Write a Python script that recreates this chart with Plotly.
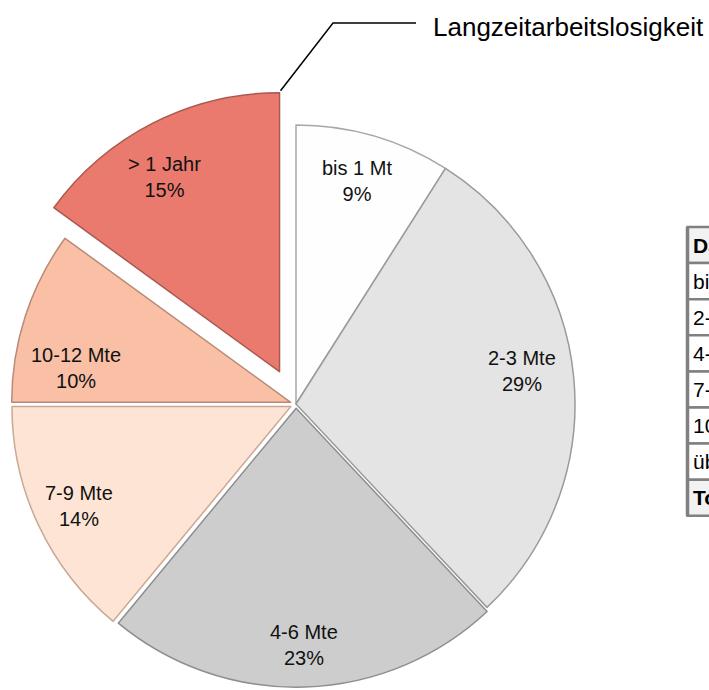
import math
import plotly.graph_objects as go

# ---------------- data ----------------
categories = ["bis 1 Mt", "2-3 Mte", "4-6 Mte", "7-9 Mte", "10-12 Mte", "> 1 Jahr"]
shares = [9, 29, 23, 14, 10, 15]
table_rows = ["Dauer", "bis 1 Mt", "2-3 Mte", "4-6 Mte", "7-9 Mte", "10-12 Mte", "über 1 Jahr", "Total"]
callout_text = "Langzeitarbeitslosigkeit"

# ---------------- style ----------------
W, H = 709, 690
FONT = "Liberation Sans, Arial, sans-serif"
slice_colors = ["#FEFEFE", "#E4E4E4", "#CDCDCD", "#FDE4D4", "#F9C0A6", "#EB7A6E"]
edge_colors = ["#A8A8A8", "#9A9A9A", "#8E8E8E", "#C9A896", "#B98A78", "#A85A50"]
pulls = [0, 0, 0.015, 0.02, 0.02, 0]
big_pull = 0.13            # pull of the last slice (drawn as its own pie)
R = 279                    # pie radius in px
CX, CY = 296, 404          # pie centre in px
label_k = [0.83, 0.82, 0.85, 0.84, 0.78, 0.81]
label_nudge = [-1, -3, 0, 0, -9, -3.5]


def to_paper(x, y):
    return x / W, 1 - y / H


def unit(deg):
    a = math.radians(deg)
    return math.sin(a), -math.cos(a)


total = sum(shares)
mids = []
cum = 0
for v in shares:
    mids.append((cum + v / 2) / total * 360)
    cum += v

# main pie (all slices but the last)
max_pull = max(pulls)
half_a = R * (1 + max_pull)
dom_a = dict(x=[(CX - half_a) / W, (CX + half_a) / W],
             y=[1 - (CY + half_a) / H, 1 - (CY - half_a) / H])

n = len(shares)
colors_a = slice_colors[:-1] + ["rgba(0,0,0,0)"]
lines_a = edge_colors[:-1] + ["rgba(0,0,0,0)"]

# exploded last slice
ux, uy = unit(mids[-1])
BX, BY = CX + big_pull * R * ux, CY + big_pull * R * uy
dom_b = dict(x=[(BX - R) / W, (BX + R) / W],
             y=[1 - (BY + R) / H, 1 - (BY - R) / H])
colors_b = ["rgba(0,0,0,0)"] * (n - 1) + [slice_colors[-1]]
lines_b = ["rgba(0,0,0,0)"] * (n - 1) + [edge_colors[-1]]

fig = go.Figure()
fig.add_trace(go.Pie(
    labels=categories, values=shares, sort=False, direction="clockwise",
    rotation=0, pull=pulls, domain=dom_a, textinfo="none", hoverinfo="skip",
    marker=dict(colors=colors_a, line=dict(color=lines_a, width=1.5)),
    showlegend=False))
fig.add_trace(go.Pie(
    labels=categories, values=shares, sort=False, direction="clockwise",
    rotation=0, domain=dom_b, textinfo="none", hoverinfo="skip",
    marker=dict(colors=colors_b, line=dict(color=lines_b, width=1.5)),
    showlegend=False))

annotations = []
shapes = []

# slice labels
for i, (cat, v) in enumerate(zip(categories, shares)):
    if i == n - 1:
        ox, oy = BX, BY
    else:
        px, py = unit(mids[i])
        ox, oy = CX + pulls[i] * R * px, CY + pulls[i] * R * py
    dx, dy = unit(mids[i] + label_nudge[i])
    lx, ly = ox + label_k[i] * R * dx, oy + label_k[i] * R * dy
    xp, yp = to_paper(lx, ly)
    annotations.append(dict(
        x=xp, y=yp, xref="paper", yref="paper", showarrow=False,
        text=f"{cat}<br>{round(v / total * 100)}%", align="center",
        xanchor="center", yanchor="middle",
        font=dict(family=FONT, size=20, color="#111111")))

# callout line + text
top_x, top_y = BX, BY - R
p0 = to_paper(top_x + 1, top_y - 2)
p1 = to_paper(333, 23)
p2 = to_paper(416, 23)
shapes.append(dict(type="path", xref="paper", yref="paper",
                   path=f"M {p0[0]},{p0[1]} L {p1[0]},{p1[1]} L {p2[0]},{p2[1]}",
                   line=dict(color="black", width=1.5)))
tx, ty = to_paper(431, 27)
annotations.append(dict(x=tx, y=ty, xref="paper", yref="paper", showarrow=False,
                        text=callout_text, xanchor="left", yanchor="middle",
                        font=dict(family=FONT, size=26, color="black")))

# table (cut at the right edge, as in the original)
T_TOP, T_STEP, T_LEFT = 227, 36.1, 687.5
for i, row in enumerate(table_rows):
    y0 = T_TOP + i * T_STEP
    y1 = y0 + T_STEP
    bold = i == 0 or i == len(table_rows) - 1
    a0 = to_paper(T_LEFT, y0)
    a1 = to_paper(760, y1)
    shapes.append(dict(type="rect", xref="paper", yref="paper",
                       x0=a0[0], y0=a0[1], x1=a1[0], y1=a1[1],
                       fillcolor="#F2F2F2" if bold else "white",
                       line=dict(color="#808080", width=2.5), layer="above"))
    lx, ly = to_paper(690.5, (y0 + y1) / 2)
    annotations.append(dict(x=lx, y=ly, xref="paper", yref="paper", showarrow=False,
                            text=f"<b>{row}</b>" if bold else row,
                            xanchor="left", yanchor="middle",
                            font=dict(family=FONT, size=21, color="black")))
v0 = to_paper(T_LEFT, T_TOP)
v1 = to_paper(T_LEFT, T_TOP + T_STEP * len(table_rows))
shapes.append(dict(type="line", xref="paper", yref="paper",
                   x0=v0[0], y0=v0[1], x1=v1[0], y1=v1[1],
                   line=dict(color="#808080", width=3.5), layer="above"))

fig.update_layout(
    width=W, height=H, margin=dict(l=0, r=0, t=0, b=0),
    paper_bgcolor="white", plot_bgcolor="white",
    annotations=annotations, shapes=shapes,
)

fig.write_html("out.html", config={"displayModeBar": False},
               post_script="document.body.style.margin='0';")
